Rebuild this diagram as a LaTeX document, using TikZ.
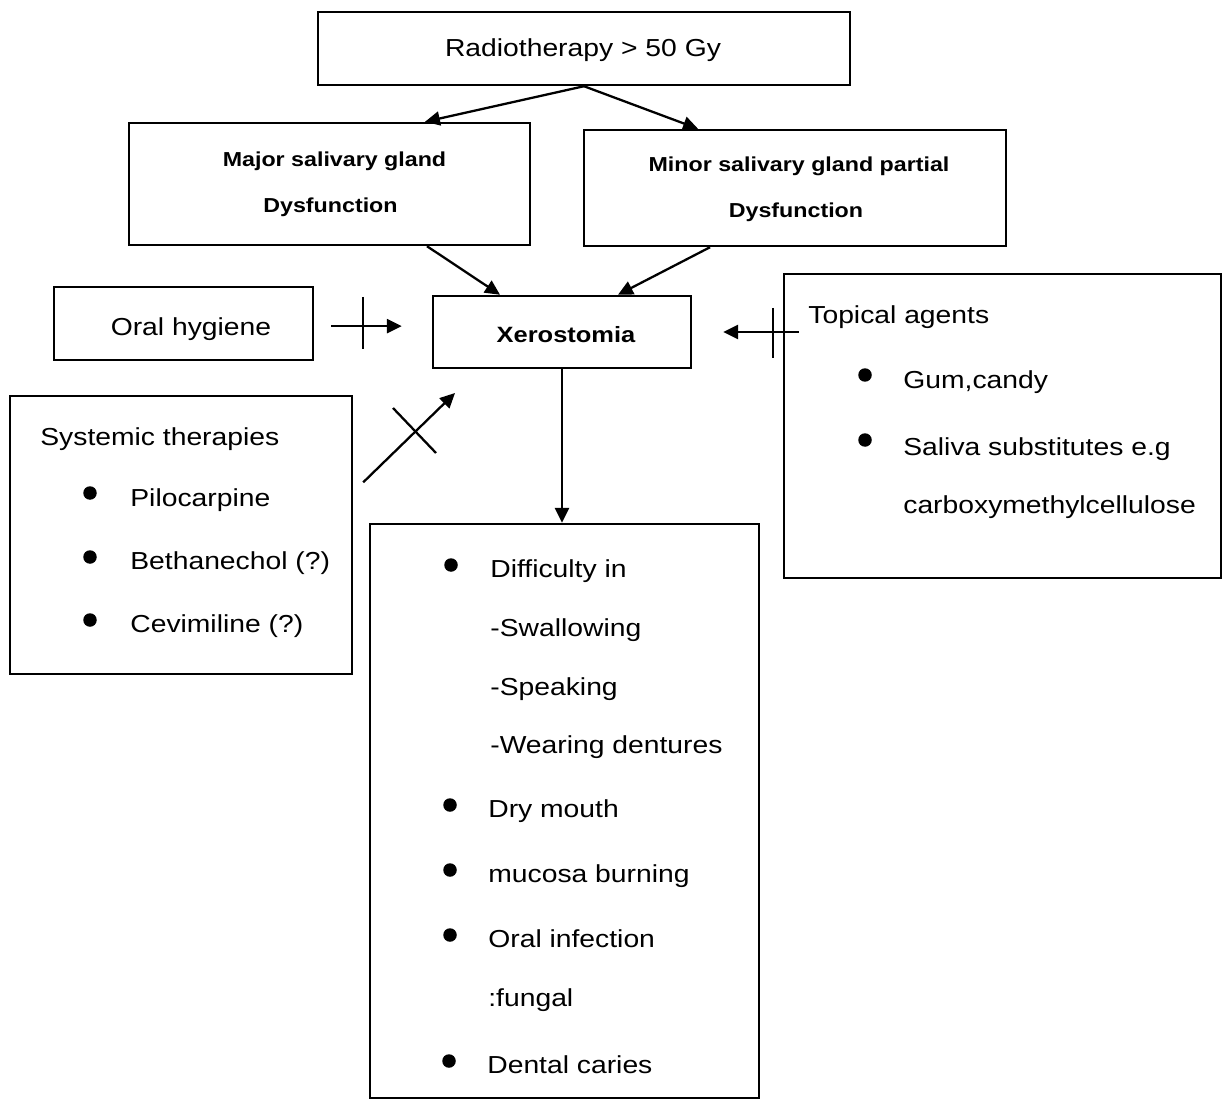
\documentclass[tikz,border=0pt]{standalone}
\usepackage{fontspec}
\setmainfont{Liberation Sans}[FakeStretch=1.15]
\usetikzlibrary{arrows.meta}
\tikzset{
  box/.style={draw, line width=1.4pt, inner sep=0pt},
  item/.style={inner sep=0pt, anchor=base west, font=\fontsize{14}{17}\selectfont},
  title/.style={inner sep=0pt, anchor=base, font=\fontsize{14}{17}\selectfont},
  gland/.style={inner sep=0pt, anchor=base, font=\bfseries\fontsize{11.5}{14}\selectfont},
  dot/.style={circle, fill, inner sep=0pt, minimum size=0.27cm},
  arr/.style={line width=1.3pt, -{Triangle[length=8.5pt,width=8pt]}},
  cut/.style={line width=1.3pt},
}
\begin{document}
\begin{tikzpicture}[x=0.02cm, y=-0.02cm]
    \useasboundingbox (0,0) rectangle (1223,1101);
    % boxes
    \node[box, minimum width=10.64cm, minimum height=1.46cm] (radio) at (584,48.5) {};
    \node[box, minimum width=8.02cm, minimum height=2.44cm] (major) at (329.5,184) {};
    \node[box, minimum width=8.44cm, minimum height=2.32cm] (minor) at (795,188) {};
    \node[box, minimum width=5.18cm, minimum height=1.46cm] (oral) at (183.5,323.5) {};
    \node[box, minimum width=5.16cm, minimum height=1.44cm] (xero) at (562,332) {};
    \node[box, minimum width=8.74cm, minimum height=6.08cm] (topical) at (1002.5,426) {};
    \node[box, minimum width=6.84cm, minimum height=5.56cm] (sys) at (181,535) {};
    \node[box, minimum width=7.78cm, minimum height=11.48cm] (effects) at (564.5,811) {};
    % texts
    \node[title] (radiotxt) at (583,57) {Radiotherapy > 50 Gy};
    \node[gland] (major1) at (334.5,167) {Major salivary gland};
    \node[gland] (major2) at (330.5,213) {Dysfunction};
    \node[gland] (minor1) at (799,172) {Minor salivary gland partial};
    \node[gland] (minor2) at (796,218) {Dysfunction};
    \node[title] (oraltxt) at (191,336) {Oral hygiene};
    \node[inner sep=0pt, anchor=base, font=\bfseries\fontsize{12.6}{15}\selectfont] (xerotxt) at (566,342) {Xerostomia};
    \node[item] (toptxt) at (808,323) {Topical agents};
    \node[dot] (tb1) at (865,375) {};
    \node[item] (gum) at (903,388) {Gum,candy};
    \node[dot] (tb2) at (865,440) {};
    \node[item] (saliva) at (903,455) {Saliva substitutes e.g};
    \node[item] (carboxy) at (903,513) {carboxymethylcellulose};
    \node[item] (systxt) at (40,445) {Systemic therapies};
    \node[dot] (sb1) at (90,493) {};
    \node[item] (pilo) at (130,506) {Pilocarpine};
    \node[dot] (sb2) at (90,557) {};
    \node[item] (betha) at (130,569) {Bethanechol (?)};
    \node[dot] (sb3) at (90,620) {};
    \node[item] (cevi) at (130,632) {Cevimiline (?)};
    \node[dot] (eb1) at (451,565) {};
    \node[item] (diff) at (490,577) {Difficulty in};
    \node[item] (swal) at (490,636) {-Swallowing};
    \node[item] (speak) at (490,695) {-Speaking};
    \node[item] (wear) at (490,753) {-Wearing dentures};
    \node[dot] (eb2) at (450,805) {};
    \node[item] (dry) at (488,817) {Dry mouth};
    \node[dot] (eb3) at (450,870) {};
    \node[item] (burn) at (488,882) {mucosa burning};
    \node[dot] (eb4) at (450,935) {};
    \node[item] (infect) at (488,947) {Oral infection};
    \node[item] (fungal) at (488,1006) {:fungal};
    \node[dot] (eb5) at (449,1061) {};
    \node[item] (caries) at (487,1073) {Dental caries};
    % connectors
    \coordinate (systip) at (455,393);
    \draw[arr] (radio.south) -- ([xshift=1.91cm]major.north);
    \draw[arr] (radio.south) -- ([xshift=-1.94cm]minor.north);
    \draw[arr] ([xshift=1.95cm]major.south) -- ([xshift=-1.24cm]xero.north);
    \draw[arr] ([xshift=-1.7cm]minor.south) -- ([xshift=1.12cm]xero.north);
    \draw[arr, shorten <=0.34cm, shorten >=0.6cm] ([yshift=-1.5pt]oral.east) -- ([yshift=-1.5pt]oral.east -| xero.west);
    \draw[arr, shorten <=-0.32cm, shorten >=0.62cm] (xero.east -| topical.west) -- (xero.east);
    \draw[arr, shorten <=0.28cm] (sys.14) -- (systip);
    \draw[arr] (xero.south) -- (xero.south |- effects.north);
    % blocking marks
    \draw[cut] (363,297) -- (363,349);
    \draw[cut] (773,308) -- (773,358);
    \draw[cut] (393,408) -- (436,453);
\end{tikzpicture}
\end{document}
